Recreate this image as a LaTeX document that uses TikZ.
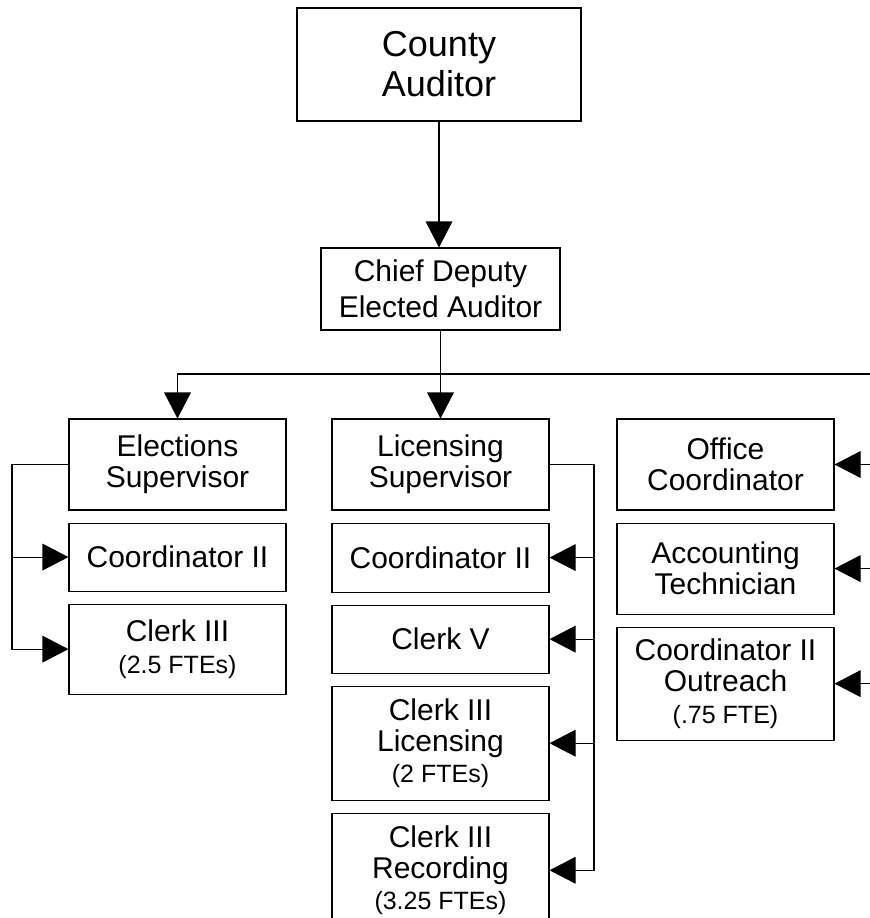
\documentclass[tikz,border=0pt]{standalone}
\usepackage{fontspec}
\setmainfont{Liberation Sans}
\usetikzlibrary{arrows.meta, positioning}

\newcommand{\fte}[1]{{\fontsize{18.75}{22.5}\selectfont #1}}

\begin{document}
\begin{tikzpicture}[
    x=0.75pt, y=-0.75pt,
    node distance=9pt,
    >={Triangle[length=19.5pt,width=20pt]},
    box/.style={rectangle, draw, line width=0.8pt, align=center, inner sep=0pt, minimum width=162.75pt, font=\fontsize{22.5}{23.5}\selectfont},
    tall/.style={minimum height=#1*0.75pt},
    link/.style={line width=0.8pt}
]
\clip (0,0) rectangle (870,918);

% Top
\node[box, minimum width=213pt, tall=113, font=\fontsize{27}{30}\selectfont] (aud) at (439,64.5) {County\\Auditor};
\node[box, minimum width=179.25pt, tall=82, font=\fontsize{22.5}{27}\selectfont] (chief) at (440.5,289) {Chief Deputy\\Elected Auditor};

% Elections
\node[box, tall=91] (elec) at (177.5,464.5) {Elections\\Supervisor};
\node[box, tall=68, below=of elec] (ecoord) {Coordinator II};
\node[box, tall=90, below=of ecoord] (eclerk) {Clerk III\\\fte{(2.5 FTEs)}};

% Licensing
\node[box, tall=91] (lic) at (440.5,464.5) {Licensing\\Supervisor};
\node[box, tall=69, below=of lic] (lcoord) {Coordinator II};
\node[box, tall=68, below=of lcoord] (lclerk) {Clerk V};
\node[box, tall=114, below=of lclerk] (llic) {Clerk III\\Licensing\\\fte{(2 FTEs)}};
\node[box, tall=114, below=of llic] (lrec) {Clerk III\\Recording\\\fte{(3.25 FTEs)}};

% Office
\node[box, tall=91] (office) at (725.5,464.5) {Office\\Coordinator};
\node[box, tall=91, below=of office] (acct) {Accounting\\Technician};
\node[box, tall=113, below=of acct] (outreach) {Coordinator II\\Outreach\\\fte{(.75 FTE)}};

\coordinate (rjoin) at (890,374);
\coordinate (ejoin) at (12,464.5);
\coordinate (ljoin) at (594,464.5);

\draw[link, ->] (aud.south) -- (aud.south |- chief.north);
\draw[link, ->] (chief.south) -- (lic.north);
\draw[link, ->] (rjoin) -| (elec.north);

\draw[link, ->] (elec.west) -- (ejoin) |- (eclerk.west);
\draw[link, ->] (ejoin |- ecoord.west) -- (ecoord.west);

\draw[link, ->] (lic.east) -- (ljoin) |- (lrec.east);
\foreach \n in {lcoord, lclerk, llic}
    \draw[link, ->] (ljoin |- \n.east) -- (\n.east);

\draw[link, ->] (rjoin) |- (office.east);
\foreach \n in {acct, outreach}
    \draw[link, ->] (rjoin |- \n.east) -- (\n.east);

\end{tikzpicture}
\end{document}
